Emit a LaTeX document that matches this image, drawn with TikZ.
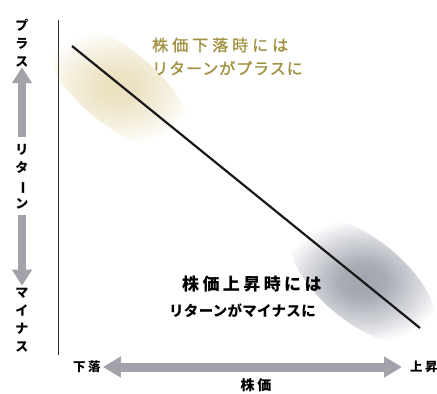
\documentclass[tikz,border=0pt]{standalone}
\usepackage{fontspec}
\usepackage{graphicx}
\setmainfont{Noto Sans CJK JP}
\usetikzlibrary{arrows.meta}
\definecolor{olive}{HTML}{A09040}
\definecolor{arrowgray}{HTML}{A2A2AA}
\pgfdeclareradialshading{beigeblob}{\pgfpoint{0bp}{0bp}}{%
  color(0bp)=(rgb,255:red,234;green,224;blue,190);
  color(6bp)=(rgb,255:red,236;green,227;blue,196);
  color(17bp)=(rgb,255:red,246;green,241;blue,226);
  color(25bp)=(white); color(50bp)=(white)}
\pgfdeclareradialshading{grayblob}{\pgfpoint{0bp}{0bp}}{%
  color(0bp)=(rgb,255:red,160;green,164;blue,172);
  color(7bp)=(rgb,255:red,168;green,172;blue,180);
  color(17bp)=(rgb,255:red,214;green,216;blue,221);
  color(25bp)=(white); color(50bp)=(white)}
\tikzset{
  vlbl/.style={inner sep=0pt, align=center, font=\fontsize{13}{18}\selectfont\bfseries},
  fatarrow/.style={draw=arrowgray, line width=8pt, -{Triangle[width=19pt,length=16pt]}},
  fatdouble/.style={draw=arrowgray, line width=9pt, {Triangle[width=20pt,length=18pt]}-{Triangle[width=20pt,length=18pt]}},
  axlbl/.style={inner sep=0pt, font=\fontsize{12.5}{14}\selectfont\bfseries\addfontfeature{LetterSpace=20}}
}
\begin{document}
\begin{tikzpicture}[x=1pt,y=-1pt]
\useasboundingbox (0,0) rectangle (437,394);
\clip (0,0) rectangle (437,394);
% blurred highlights
\shade[shading=beigeblob, rotate around={-39:(118,87)}] (118,87) ellipse (86 and 38);
\shade[shading=grayblob, rotate around={-39:(363,281)}] (363,281) ellipse (88 and 42);
% axis
\coordinate (atop) at (58,20);
\coordinate (abot) at (58,355);
\draw[line width=0.9pt, black!80] (atop) -- (abot);
% regression line
\coordinate (ls) at (72,46);
\coordinate (le) at (420,328);
\draw[line width=2.2pt, black!90] (ls) -- (le);
% vertical labels
\node[vlbl] (plus) at (22,43) {プ\\ラ\\ス};
\node[vlbl] (ret) at (22,177) {リ\\タ\\\rotatebox[origin=c]{-90}{ー}\\ン};
\node[vlbl] (minus) at (22,320) {マ\\イ\\ナ\\ス};
\draw[fatarrow] ([yshift=7pt]ret.north) -- (plus.south);
\draw[fatarrow] ([yshift=-5pt]ret.south) -- ([yshift=2pt]minus.north);
% annotations
\node[inner sep=0pt, text=olive, anchor=west, font=\fontsize{16}{20}\selectfont\addfontfeature{FakeBold=1.2,LetterSpace=25}] (up1) at (152,45) {株価下落時には};
\node[inner sep=0pt, text=olive, anchor=west, font=\fontsize{16}{20}\selectfont\addfontfeature{FakeBold=1.2,LetterSpace=6}] (up2) at (152,68) {リターンがプラスに};
\node[inner sep=0pt, anchor=west, font=\fontsize{17}{20}\selectfont\bfseries\addfontfeature{LetterSpace=20}] (dn1) at (182,284) {株価上昇時には};
\node[inner sep=0pt, anchor=west, font=\fontsize{14.5}{20}\selectfont\bfseries\addfontfeature{LetterSpace=2}] (dn2) at (169,311) {リターンがマイナスに};
% bottom axis
\node[axlbl, anchor=west] (fall) at (73,367) {下落};
\node[axlbl, anchor=west] (rise) at (410,367) {上昇};
\node[axlbl, font=\fontsize{14}{16}\selectfont\bfseries\addfontfeature{LetterSpace=20}] (price) at (256,385) {株価};
\draw[fatdouble] ([xshift=2pt]fall.east) -- ([xshift=-8pt]rise.west);
\end{tikzpicture}
\end{document}
